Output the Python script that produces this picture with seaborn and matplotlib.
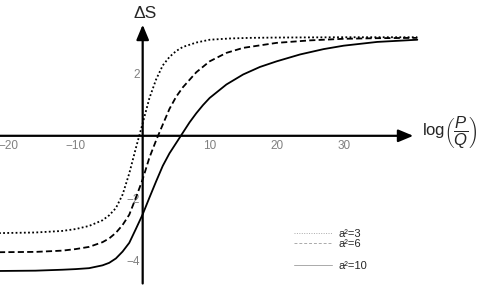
import numpy as np
import pandas as pd
import matplotlib
matplotlib.use('Agg')
import matplotlib.pyplot as plt
import seaborn as sns
from matplotlib.lines import Line2D
from matplotlib.ticker import FixedLocator

# Values
x_a3 = [-21.5, -16, -12, -10, -8, -6, -5, -4, -3, -2, -1, 0, 1, 2, 3, 4, 5, 6, 8, 10, 13, 16, 20, 30, 41]
ds_a3 = [-3.11, -3.09, -3.04, -2.98, -2.88, -2.70, -2.54, -2.31, -1.88, -1.20, -0.38, 0.40, 1.20, 1.80,
         2.25, 2.52, 2.71, 2.84, 2.98, 3.07, 3.11, 3.13, 3.14, 3.15, 3.15]

x_a6 = [-21.5, -16, -12, -10, -8, -6, -5, -4, -3, -2, -1, 0, 1, 2, 3, 4, 5, 6, 8, 10, 12.5, 15, 20, 25,
        30, 35, 41]
ds_a6 = [-3.72, -3.71, -3.67, -3.62, -3.55, -3.40, -3.28, -3.10, -2.85, -2.52, -1.97, -1.39, -0.70, -0.15,
         0.36, 0.86, 1.25, 1.55, 2.03, 2.38, 2.65, 2.81, 2.97, 3.05, 3.10, 3.12, 3.13]

x_a10 = [-21.5, -16, -12, -10, -8, -6, -5, -4, -3, -2, -1, 0, 1, 2, 3, 4, 5, 6, 7, 8, 9, 10, 12.5, 15,
         17.5, 20, 23.5, 27, 30, 35, 41]
ds_a10 = [-4.32, -4.31, -4.28, -4.26, -4.23, -4.14, -4.06, -3.92, -3.70, -3.42, -2.97, -2.51, -1.98, -1.46,
          -0.96, -0.56, -0.23, 0.10, 0.43, 0.72, 0.98, 1.21, 1.64, 1.96, 2.20, 2.38, 2.60, 2.77, 2.88, 3.00, 3.07]

labels = ['a²=3', 'a²=6', 'a²=10']
x_major = [-20, -10, 10, 20, 30]
y_major = [-4, -2, 2]

df = pd.concat([
    pd.DataFrame({'x': x_a3, 'dS': ds_a3, 'a2': labels[0]}),
    pd.DataFrame({'x': x_a6, 'dS': ds_a6, 'a2': labels[1]}),
    pd.DataFrame({'x': x_a10, 'dS': ds_a10, 'a2': labels[2]}),
])

sns.set_style('white')
plt.rcParams['font.family'] = ['Liberation Sans', 'DejaVu Sans']
plt.rcParams['mathtext.fontset'] = 'custom'
plt.rcParams['mathtext.rm'] = 'Liberation Sans'
plt.rcParams['mathtext.it'] = 'Liberation Sans:italic'

fig = plt.figure(figsize=(4.91, 2.86), dpi=100)
ax = fig.add_axes([0, 0, 1, 1])

dashes = {labels[0]: (1, 1.3), labels[1]: (3.4, 1.8), labels[2]: ''}
sns.lineplot(data=df, x='x', y='dS', style='a2', dashes=dashes, color='black', linewidth=1.3,
             estimator=None, sort=False, legend=False, ax=ax)

ax.set_xlim(-21.3, 52)
ax.set_ylim(-4.8, 4.34)
ax.set_xlabel('')
ax.set_ylabel('')

# axes through the origin
for s in ['top', 'right']:
    ax.spines[s].set_visible(False)
ax.spines['bottom'].set_position(('data', 0))
ax.spines['left'].set_position(('data', 0))
ax.spines['bottom'].set_color('none')
ax.spines['left'].set_color('none')
ax.annotate('', xy=(40.4, 0), xytext=(-21.3, 0),
            arrowprops=dict(arrowstyle='-|>,head_length=0.6,head_width=0.25', lw=1.6, color='black',
                            mutation_scale=15, shrinkA=0, shrinkB=0))
ax.annotate('', xy=(0, 3.55), xytext=(0, -4.72),
            arrowprops=dict(arrowstyle='-|>,head_length=0.6,head_width=0.25', lw=1.6, color='black',
                            mutation_scale=15, shrinkA=0, shrinkB=0))

ax.xaxis.set_major_locator(FixedLocator(x_major))
ax.xaxis.set_minor_locator(FixedLocator([v for v in range(-20, 40, 2) if v % 10 != 0]))
ax.yaxis.set_major_locator(FixedLocator(y_major))
ax.yaxis.set_minor_locator(FixedLocator([v / 2 for v in range(-9, 7) if v % 4 != 0]))
ax.tick_params(which='major', direction='in', length=3.5, width=0.8, color='#555555',
               labelsize=8.5, labelcolor='#808080', pad=3)
ax.tick_params(which='minor', direction='in', length=2, width=0.6, color='#555555')
ax.tick_params(axis='y', which='major', pad=2)

ax.text(0.3, 3.9, 'ΔS', fontsize=12.5, ha='center', va='center')
ax.text(41.7, 0.1, r'$\mathrm{log}\left(\dfrac{P}{Q}\right)$', fontsize=12, ha='left', va='center')

# legend
leg_dash = [(1, 1.5), (3, 2), (None, None)]
handles = []
for lab, d in zip(labels, leg_dash):
    h = Line2D([], [], color='#aaaaaa', lw=0.7, label=lab)
    if d[0] is not None:
        h.set_dashes(d)
    handles.append(h)
kw = dict(frameon=False, fontsize=8, handlelength=3.4, handletextpad=0.6, labelspacing=0.0,
          borderpad=0, borderaxespad=0, loc='upper left')
leg1 = ax.legend(handles=handles[:2], bbox_to_anchor=(294 / 491, 1 - 229 / 286), **kw)
ax.add_artist(leg1)
ax.legend(handles=handles[2:], bbox_to_anchor=(294 / 491, 1 - 261 / 286), **kw)

fig.savefig('out.png', dpi=100)
